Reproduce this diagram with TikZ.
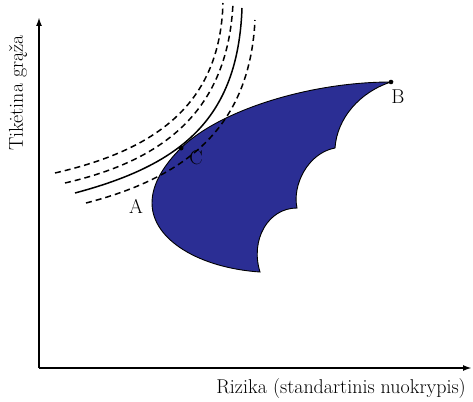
\documentclass[tikz,border=0pt]{standalone}
\usepackage{xcolor}
\usepackage{tikz}
\usetikzlibrary{positioning, arrows.meta, calc}
\definecolor{setblue}{HTML}{2B2E94}

\begin{document}
\begin{tikzpicture}[x=1pt, y=-1pt,
    axis/.style={line width=1.8pt, -{Latex[length=9pt, width=6pt]}},
    indiff/.style={line width=1.5pt},
    indiffdash/.style={indiff, dash pattern=on 6pt off 4pt},
    lbl/.style={font=\fontsize{20}{24}\selectfont, inner sep=0pt}]
  \useasboundingbox (0,0) rectangle (473,401);
  % axes
  \coordinate (O) at (39,368);
  \coordinate (ytop) at (39,17);
  \coordinate (xend) at (472,368);
  \draw[axis] (O) -- (ytop);
  \draw[axis] (O) -- (xend);
  \node[lbl, rotate=90] (ylab) at (18,93) {Tikėtina grąža};
  \node[lbl, anchor=east] (xlab) at (466,389) {Rizika (standartinis nuokrypis)};
  % feasible set
  \coordinate (B) at (391,82);
  \coordinate (C) at (181,148);
  \coordinate (A) at (152,203);
  \coordinate (tip) at (260,272);
  \coordinate (cusp1) at (297,208);
  \coordinate (cusp2) at (335,148);
  \fill[setblue, draw=black, line width=0.9pt]
    (B) .. controls (310,82) and (220,110) .. (C)
        .. controls (165,164) and (152,183) .. (A)
        .. controls (152,240) and (200,268) .. (tip)
        .. controls (250,240) and (268,208) .. (cusp1)
        .. controls (292,185) and (308,153) .. (cusp2)
        .. controls (337,118) and (360,92) .. (B) -- cycle;
  % indifference curves
  \draw[indiffdash] (55,173) .. controls (155,150) and (220,105) .. (223,3);
  \draw[indiffdash] (65,183) .. controls (165,160) and (228,110) .. (233,3);
  \draw[indiff] (75,193) .. controls (180,165) and (238,120) .. (242,8);
  \draw[indiffdash] (86,203) .. controls (195,175) and (250,120) .. (255,20);
  % points
  \fill (C) circle (2.5pt);
  \fill (B) circle (2.3pt);
  \node[lbl] (labA) at (136,206) {A};
  \node[lbl] (labB) at (398,97) {B};
  \node[lbl] (labC) at (196,158) {C};
\end{tikzpicture}
\end{document}
